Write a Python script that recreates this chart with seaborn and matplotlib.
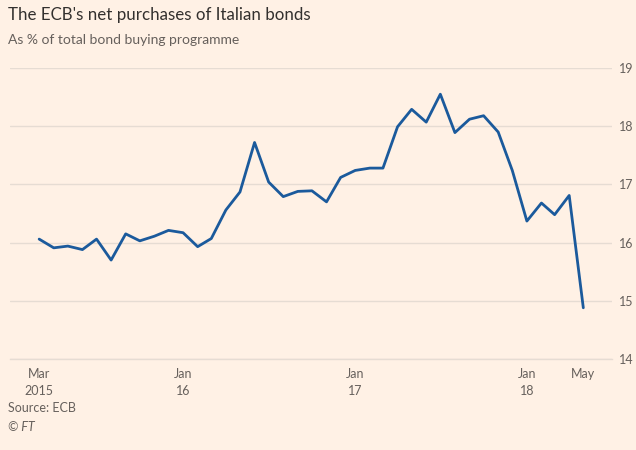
import pandas as pd
import matplotlib.pyplot as plt
import matplotlib.ticker as mticker
import matplotlib.dates as mdates
import seaborn as sns

# -----------------------------
# Data: ECB net purchases of Italian bonds, % of total programme
# Monthly, Mar 2015 -> May 2018
# -----------------------------
start_month = "2015-03-01"
share_pct = [
    16.06, 15.91, 15.94, 15.88, 16.06, 15.70, 16.15, 16.03, 16.11, 16.21,
    16.17, 15.93, 16.07, 16.56, 16.87, 17.72, 17.04, 16.79, 16.88, 16.89,
    16.70, 17.12, 17.24, 17.28, 17.28, 17.99, 18.29, 18.07, 18.55, 17.89,
    18.12, 18.18, 17.90, 17.24, 16.37, 16.68, 16.48, 16.81, 14.88,
]
tick_dates = ["2015-03-01", "2016-01-01", "2017-01-01", "2018-01-01", "2018-05-01"]
tick_labels = ["Mar\n2015", "Jan\n16", "Jan\n17", "Jan\n18", "May"]
y_ticks = [14, 15, 16, 17, 18, 19]

df = pd.DataFrame({
    "month": pd.date_range(start_month, periods=len(share_pct), freq="MS"),
    "share": share_pct,
})

# -----------------------------
# FT-ish styling
# -----------------------------
BG = "#FFF1E5"
GRID = "#E6DCD3"
TEXT = "#66605C"
DARK = "#33302E"
LINE = "#1B5A9C"

sns.set_style("white")
plt.rcParams["font.family"] = ["Lato", "DejaVu Sans"]

fig = plt.figure(figsize=(6.36, 4.5), dpi=100, facecolor=BG)
ax = fig.add_axes([10 / 636, 1 - 359 / 450, 602 / 636, 291 / 450], facecolor=BG)

sns.lineplot(data=df, x="month", y="share", color=LINE, linewidth=2.0, ax=ax)

ax.set_ylim(14, 19)
ax.set_xlim(pd.Timestamp("2014-12-29"), pd.Timestamp("2018-07-01"))

# y axis on the right, no ticks, horizontal grid
ax.yaxis.tick_right()
ax.set_yticks(y_ticks)
ax.tick_params(axis="y", length=0, pad=5, labelsize=9, labelcolor=TEXT)
ax.grid(axis="y", color=GRID, linewidth=1)
ax.grid(axis="x", visible=False)

# x axis: monthly minor ticks (data months only), labelled major ticks
ax.set_xticks(pd.to_datetime(tick_dates))
ax.set_xticklabels(tick_labels)
ax.xaxis.set_minor_locator(mticker.FixedLocator(mdates.date2num(df["month"])))
ax.tick_params(axis="x", which="major", length=5, width=0.8, color="#CFC6BE",
               labelsize=9, labelcolor=TEXT, pad=1.5)
ax.tick_params(axis="x", which="minor", length=3, width=0.8, color="#CFC6BE")
for lbl in ax.get_xticklabels():
    lbl.set_linespacing(1.45)

for side in ["top", "left", "right"]:
    ax.spines[side].set_visible(False)
ax.spines["bottom"].set_color(GRID)
ax.spines["bottom"].set_linewidth(1)

ax.set_xlabel("")
ax.set_ylabel("")

# -----------------------------
# Titles and footer
# -----------------------------
fig.text(8 / 636, 1 - 15 / 450, "The ECB's net purchases of Italian bonds",
         fontsize=12.2, color=DARK, va="center", ha="left")
fig.text(8 / 636, 1 - 40 / 450, "As % of total bond buying programme",
         fontsize=10, color=TEXT, va="center", ha="left")
fig.text(8 / 636, 1 - 408 / 450, "Source: ECB",
         fontsize=9, color=TEXT, va="center", ha="left")
fig.text(8 / 636, 1 - 427 / 450, "© FT",
         fontsize=9, color=TEXT, va="center", ha="left", style="italic")

fig.savefig("out.png", dpi=100, facecolor=BG)
plt.close(fig)
